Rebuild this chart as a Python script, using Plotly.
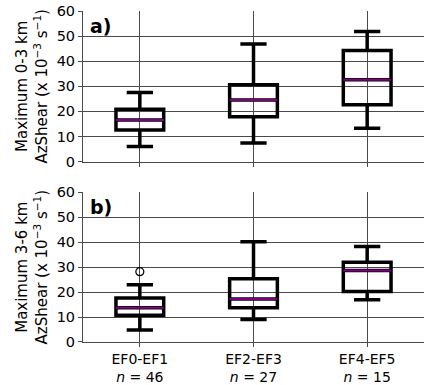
import plotly.graph_objects as go
from plotly.subplots import make_subplots

categories = ["EF0-EF1", "EF2-EF3", "EF4-EF5"]
counts = [46, 27, 15]
tick_labels = [f"{c}<br><i>n</i> = {n}" for c, n in zip(categories, counts)]

# Panel a) Maximum 0-3 km AzShear
a_low = [6.0, 7.4, 13.3]
a_q1 = [12.6, 17.9, 22.7]
a_med = [16.6, 24.5, 32.6]
a_q3 = [20.9, 30.6, 44.3]
a_high = [27.5, 46.9, 51.8]

# Panel b) Maximum 3-6 km AzShear
b_low = [4.8, 9.0, 16.9]
b_q1 = [10.7, 13.7, 20.3]
b_med = [13.7, 17.2, 28.7]
b_q3 = [17.6, 25.4, 32.0]
b_high = [23.0, 40.2, 38.3]
b_outlier_x = [0]
b_outlier_y = [28.2]

xpos = [0, 1, 2]
BOXW = 0.42
GRID = "#4a4a4a"
FONT = "DejaVu Sans"

fig = make_subplots(rows=2, cols=1, vertical_spacing=0.09)

def add_panel(row, low, q1, med, q3, high):
    fig.add_trace(go.Box(
        x=xpos, q1=q1, median=med, q3=q3, lowerfence=low, upperfence=high,
        width=BOXW, whiskerwidth=0.55, boxpoints=False,
        line=dict(color="black", width=3.5), fillcolor="rgba(0,0,0,0)",
        showlegend=False, hoverinfo="skip"), row=row, col=1)
    fig.add_trace(go.Box(
        x=xpos, q1=med, median=med, q3=med, lowerfence=med, upperfence=med,
        width=BOXW, whiskerwidth=0, boxpoints=False,
        line=dict(color="#800080", width=2), fillcolor="rgba(0,0,0,0)",
        showlegend=False, hoverinfo="skip"), row=row, col=1)

add_panel(1, a_low, a_q1, a_med, a_q3, a_high)
add_panel(2, b_low, b_q1, b_med, b_q3, b_high)
fig.add_trace(go.Scatter(
    x=b_outlier_x, y=b_outlier_y, mode="markers",
    marker=dict(symbol="circle-open", size=8, color="black", line=dict(width=1.2)),
    showlegend=False, hoverinfo="skip"), row=2, col=1)

xaxis_common = dict(range=[-0.5, 2.5], tickvals=xpos, showgrid=True, gridcolor=GRID,
                    gridwidth=1, zeroline=False, showline=True, linecolor=GRID,
                    linewidth=1, ticks="outside", ticklen=4, tickcolor=GRID)
yaxis_common = dict(range=[0, 60], tickvals=[0, 10, 20, 30, 40, 50, 60], showgrid=True,
                    gridcolor=GRID, gridwidth=1, zeroline=False, showline=True,
                    linecolor=GRID, linewidth=1, ticks="outside", ticklen=4,
                    tickcolor=GRID, tickfont=dict(size=14.5, color="black", family=FONT))

fig.update_xaxes(**xaxis_common, showticklabels=False, row=1, col=1)
fig.update_xaxes(**xaxis_common, ticktext=tick_labels,
                 tickfont=dict(size=14, color="black", family=FONT), row=2, col=1)
fig.update_yaxes(**yaxis_common, row=1, col=1,
                 title=dict(text="Maximum 0-3 km<br>AzShear (x 10<sup>−3</sup> s<sup>−1</sup>)",
                            font=dict(size=15, color="black", family=FONT), standoff=5))
fig.update_yaxes(**yaxis_common, row=2, col=1,
                 title=dict(text="Maximum 3-6 km<br>AzShear (x 10<sup>−3</sup> s<sup>−1</sup>)",
                            font=dict(size=15, color="black", family=FONT), standoff=5))

fig.update_layout(
    width=424, height=385, margin=dict(l=83, r=0, t=11, b=40),
    plot_bgcolor="white", paper_bgcolor="white", boxmode="overlay",
    font=dict(family=FONT, color="black"),
)
fig.update_layout(yaxis=dict(domain=[0.545, 1.0]), yaxis2=dict(domain=[0.0, 0.452]))

fig.add_annotation(text="<b>a)</b>", x=0.015, y=0.995, xref="paper", yref="paper",
                   xanchor="left", yanchor="top", showarrow=False,
                   font=dict(size=19, color="black", family=FONT))
fig.add_annotation(text="<b>b)</b>", x=0.015, y=0.447, xref="paper", yref="paper",
                   xanchor="left", yanchor="top", showarrow=False,
                   font=dict(size=19, color="black", family=FONT))

fig.write_html("out.html")
